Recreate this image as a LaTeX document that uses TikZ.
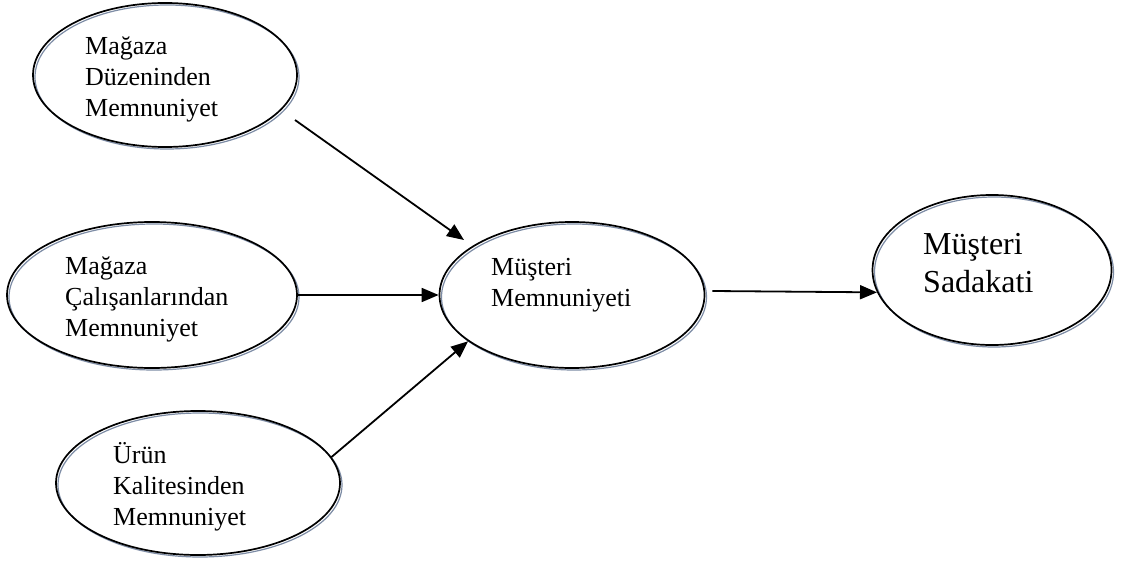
\documentclass[tikz,border=0pt]{standalone}
\usepackage{fontspec}
\setmainfont{Liberation Serif}
\usetikzlibrary{arrows.meta,shapes.geometric,shadows}
\definecolor{rimgrey}{RGB}{125,140,165}
\tikzset{
  bubble/.style={ellipse, draw=black, line width=1.7pt, inner sep=0pt,
    general shadow={shadow xshift=2pt, shadow yshift=-2pt, draw=rimgrey, line width=1.2pt}},
  label25/.style={anchor=base west, inner sep=0pt, align=left,
    font={\fontsize{26}{31}\selectfont}},
  label31/.style={anchor=base west, inner sep=0pt, align=left,
    font={\fontsize{32}{38}\selectfont}},
  link/.style={line width=1.8pt, -{Triangle[length=17pt,width=14pt]}}
}
\begin{document}
\begin{tikzpicture}[x=1pt,y=1pt]
\useasboundingbox (0,0) rectangle (1123,563);
\fill[white] (0,0) rectangle (1123,563);

% the five constructs
\node[bubble, minimum width=264pt, minimum height=144pt] (e1) at (165,488) {};
\node[bubble, minimum width=290pt, minimum height=146pt] (e2) at (152,268) {};
\node[bubble, minimum width=284pt, minimum height=144pt] (e3) at (198,80) {};
\node[bubble, minimum width=265pt, minimum height=146pt] (e4) at (572,268) {};
\node[bubble, minimum width=239pt, minimum height=150pt] (e5) at (992,293) {};

% their labels (anchored at the baseline of the last line)
\node[label25] (t1) at (85,446) {Mağaza\\Düzeninden\\Memnuniyet};
\node[label25] (t2) at (65,227) {Mağaza\\Çalışanlarından\\Memnuniyet};
\node[label25] (t3) at (113,38) {Ürün\\Kalitesinden\\Memnuniyet};
\node[label25] (t4) at (491,257) {Müşteri\\Memnuniyeti};
\node[label31] (t5) at (923,271) {Müşteri\\Sadakati};

% paths between the constructs
\draw[link] ([shift={(130pt,-45pt)}]e1.center) -- ([shift={(-108pt,55pt)}]e4.center);
\draw[link] (e2.east) -- (e2.east -| e4.west);
\draw[link] (e3.11) -- (e4.204);
\draw[link] ([shift={(7pt,4pt)}]e4.east) -- (e5.191);
\end{tikzpicture}
\end{document}
